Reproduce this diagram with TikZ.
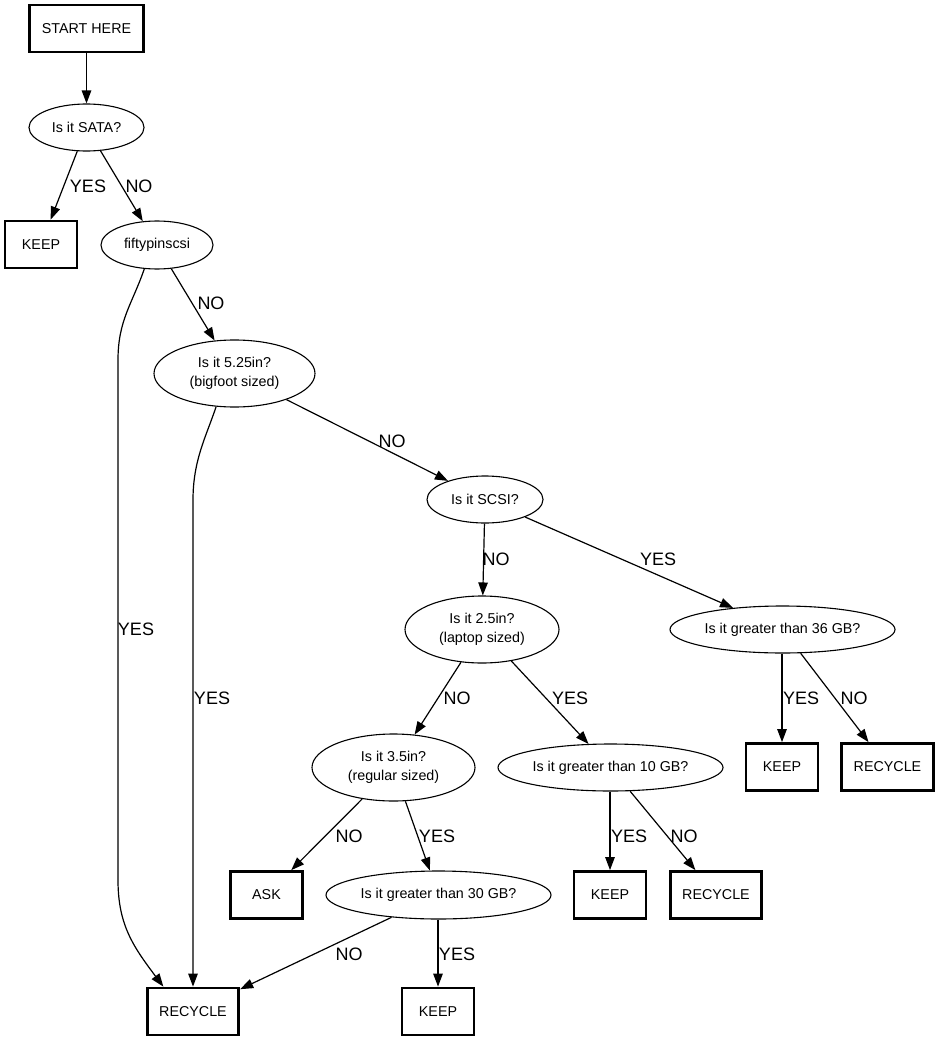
\documentclass[tikz,border=0pt]{standalone}
\usepackage{fontspec}
\setmainfont{Liberation Sans}
\usetikzlibrary{shapes.geometric,arrows.meta}
\begin{document}
\begin{tikzpicture}[x=1pt, y=-1pt,
   box/.style={draw, rectangle, line width=2.8pt, minimum width=72pt, minimum height=47pt,
               inner xsep=12pt, font=\fontsize{14.3}{18.5}\selectfont},
   quest/.style={draw, ellipse, line width=1.1pt, inner sep=0pt, minimum width=115pt,
               minimum height=47pt, align=center, font=\fontsize{14.3}{18.5}\selectfont},
   ans/.style={inner sep=0pt, font=\fontsize{18}{20}\selectfont},
   arr/.style={line width=1.2pt, -{Triangle[length=13pt, width=9.5pt]}}]

\useasboundingbox (0,0) rectangle (939,1043);

\node[box] (start) at (86.5,28.5) {START HERE};
\node[quest] (sata) at (86.5,127.5) {Is it SATA?};
\node[box] (keep1) at (41,244.5) {KEEP};
\node[quest, minimum width=112pt, minimum height=48pt] (fifty) at (157,245) {fiftypinscsi};
\node[quest, minimum width=161pt, minimum height=67pt] (big) at (234.5,373.5) {Is it 5.25in?\\(bigfoot sized)};
\node[quest, minimum width=116pt] (scsi) at (485,499.5) {Is it SCSI?};
\node[quest, minimum width=154pt, minimum height=67pt] (lap) at (482,629.5) {Is it 2.5in?\\(laptop sized)};
\node[quest, minimum width=225pt] (gt36) at (782.5,629.5) {Is it greater than 36 GB?};
\node[quest, minimum width=163pt, minimum height=67pt] (reg) at (393.5,767.5) {Is it 3.5in?\\(regular sized)};
\node[quest, minimum width=225pt] (gt10) at (610.5,767.5) {Is it greater than 10 GB?};
\node[box] (keep36) at (782,767) {KEEP};
\node[box] (rec36) at (887.5,767) {RECYCLE};
\node[box] (ask) at (266.5,895) {ASK};
\node[quest, minimum width=225pt, minimum height=48pt] (gt30) at (438.5,895) {Is it greater than 30 GB?};
\node[box] (keep10) at (610,895) {KEEP};
\node[box] (rec10) at (716,895) {RECYCLE};
\node[box] (rec) at (193,1011.5) {RECYCLE};
\node[box] (keep30) at (438,1011.5) {KEEP};

\draw[arr] (start) -- (sata);
\draw[arr] (sata) -- (keep1) node[ans, at={(88,186)}] {YES};
\draw[arr] (sata) -- (fifty) node[ans, at={(139,186)}] {NO};
\draw[arr] (fifty.242) .. controls +(-12,35) and +(0,-40) .. (118,360) -- (118,880)
           .. controls +(0,45) and +(-30,-40) .. (rec.140) node[ans, at={(136,629)}] {YES};
\draw[arr] (fifty) -- (big) node[ans, at={(211,303)}] {NO};
\draw[arr] (big.241) .. controls +(-10,30) and +(0,-40) .. (rec.north |- 0,500) -- (rec.north)
           node[ans, at={(212,698)}] {YES};
\draw[arr] (big) -- (scsi) node[ans, at={(392,441)}] {NO};
\draw[arr] (scsi) -- (lap) node[ans, at={(496,559)}] {NO};
\draw[arr] (scsi) -- (gt36) node[ans, at={(658,559)}] {YES};
\draw[arr] (lap) -- (reg) node[ans, at={(457,698)}] {NO};
\draw[arr] (lap) -- (gt10) node[ans, at={(570,698)}] {YES};
\draw[arr] (gt36.south -| keep36) -- (keep36) node[ans, at={(801,698)}] {YES};
\draw[arr] (gt36) -- (rec36) node[ans, at={(854,698)}] {NO};
\draw[arr] (reg) -- (ask) node[ans, at={(349,836)}] {NO};
\draw[arr] (reg) -- (gt30) node[ans, at={(437,836)}] {YES};
\draw[arr] (gt10.south -| keep10) -- (keep10) node[ans, at={(629,836)}] {YES};
\draw[arr] (gt10) -- (rec10) node[ans, at={(684,836)}] {NO};
\draw[arr] (gt30) -- (rec) node[ans, at={(349,954)}] {NO};
\draw[arr] (gt30.south -| keep30) -- (keep30) node[ans, at={(457,954)}] {YES};

\end{tikzpicture}
\end{document}
